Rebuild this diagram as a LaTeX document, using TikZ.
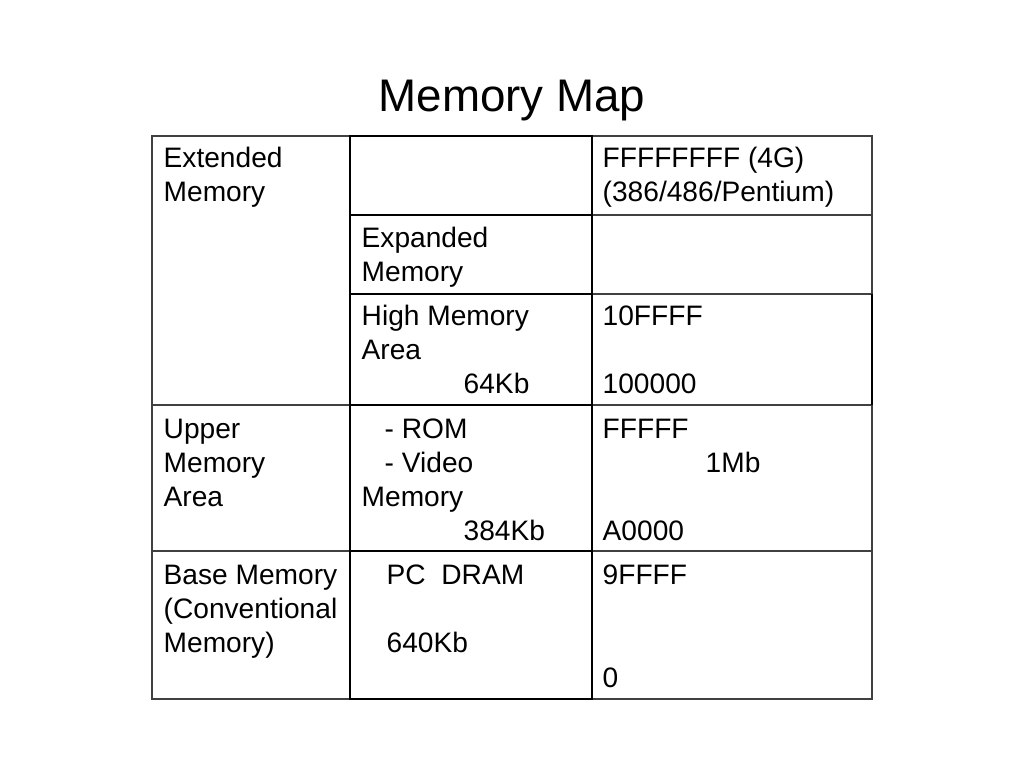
\documentclass[tikz,border=0pt]{standalone}
\usepackage{fontspec}
\setmainfont{Liberation Sans}
\tikzset{
    txt/.style={anchor=base west,inner sep=0pt,font=\fontsize{8pt}{9pt}\selectfont},
    thin/.style={draw=black!75,line width=0.3pt},
    thick/.style={draw=black,line width=0.7pt},
}
\begin{document}
\begin{tikzpicture}[x=0.01cm,y=-0.01cm]
   \useasboundingbox (0,0) rectangle (1024,768);
   % title
   \node[anchor=base,inner sep=0pt,font=\fontsize{13pt}{15pt}\selectfont] (title) at (512,112) {Memory Map};
   % grid
   \coordinate (tl) at (152,136);
   \coordinate (br) at (872,699);
   \draw[thin] (tl) rectangle (br);
   \draw[thin] (592,215) -- (872,215);
   \draw[thin] (592,294) -- (872,294);
   \draw[thin] (152,405) -- (350,405) (592,405) -- (872,405);
   \draw[thin] (152,551) -- (350,551) (592,551) -- (872,551);
   \draw[thick] (350,136) rectangle (592,699);
   \draw[thick] (350,215) -- (592,215);
   \draw[thick] (350,294) -- (592,294);
   \draw[thick] (350,405) -- (592,405);
   \draw[thick] (350,551) -- (592,551);
   \draw[thick] (872,294) -- (872,405);
   % column 1
   \node[txt] (ext1) at (163,168) {Extended};
   \node[txt] (ext2) at (163,202) {Memory};
   \node[txt] (up1) at (163,439) {Upper};
   \node[txt] (up2) at (163,473) {Memory};
   \node[txt] (up3) at (163,507) {Area};
   \node[txt] (base1) at (163,585) {Base Memory};
   \node[txt] (base2) at (163,619) {(Conventional};
   \node[txt] (base3) at (163,653) {Memory)};
   % column 2
   \node[txt] (exp1) at (361,248) {Expanded};
   \node[txt] (exp2) at (361,282) {Memory};
   \node[txt] (hma1) at (361,326) {High Memory};
   \node[txt] (hma2) at (361,360) {Area};
   \node[txt] (hma3) at (463,394) {64Kb};
   \node[txt] (umb1) at (384,439) {- ROM};
   \node[txt] (umb2) at (384,473) {- Video};
   \node[txt] (umb3) at (361,507) {Memory};
   \node[txt] (umb4) at (463,541) {384Kb};
   \node[txt] (pc1) at (386,585) {PC\ \ DRAM};
   \node[txt] (pc2) at (386,653) {640Kb};
   % column 3
   \node[txt] (a1) at (602,168) {FFFFFFFF (4G)};
   \node[txt] (a2) at (602,202) {(386/486/Pentium)};
   \node[txt] (a3) at (602,326) {10FFFF};
   \node[txt] (a4) at (602,394) {100000};
   \node[txt] (a5) at (602,439) {FFFFF};
   \node[txt] (a6) at (705,473) {1Mb};
   \node[txt] (a7) at (602,541) {A0000};
   \node[txt] (a8) at (602,585) {9FFFF};
   \node[txt] (a9) at (602,688) {0};
\end{tikzpicture}
\end{document}
